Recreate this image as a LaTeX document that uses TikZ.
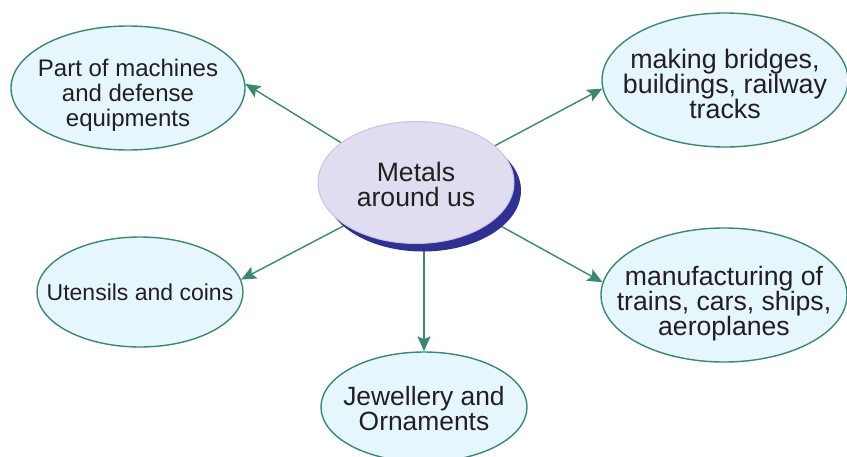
\documentclass[tikz,border=0pt]{standalone}
\usepackage{fontspec}
\setmainfont{Liberation Sans}
\usetikzlibrary{shapes.geometric,arrows.meta,shadows,backgrounds}
\definecolor{edgeteal}{RGB}{58,135,115}
\definecolor{leaffill}{RGB}{230,246,253}
\definecolor{hubfill}{RGB}{223,221,239}
\definecolor{hubline}{RGB}{200,196,228}
\definecolor{hubshadow}{RGB}{46,49,146}
\definecolor{txt}{RGB}{35,31,32}
\begin{document}
\begin{tikzpicture}[x=1pt,y=-1pt,
  leaf/.style={ellipse, draw=edgeteal, line width=1.4pt, fill=leaffill, inner sep=0pt},
  hub/.style={ellipse, draw=hubline, line width=1pt, fill=hubfill, inner sep=0pt,
    drop shadow={shadow xshift=7pt, shadow yshift=-8pt, fill=hubshadow, opacity=1}},
  label/.style={inner sep=0pt, align=center, text=txt, font=\fontsize{#1}{25}\selectfont},
  conn/.style={draw=edgeteal, line width=1.4pt, -{Stealth[length=15pt,width=13pt,inset=3pt]}}]
\useasboundingbox (0,0) rectangle (847,456);
\node[hub, minimum width=196pt, minimum height=122pt] (c) at (416,182.5) {};
\node[label=26.6, yshift=-2pt] (ct) at (c) {Metals\\around us};
\node[leaf, minimum width=234pt, minimum height=124pt] (tl) at (128,88) {};
\node[label=24, yshift=-7pt] (tlt) at (tl) {Part of machines\\and defense\\equipments};
\node[leaf, minimum width=246pt, minimum height=134pt] (tr) at (725,80) {};
\node[label=26.8, yshift=-4pt] (trt) at (tr) {making bridges,\\buildings, railway\\tracks};
\node[leaf, minimum width=206pt, minimum height=110pt] (lm) at (140,292) {};
\node[label=23] (lmt) at (lm) {Utensils and coins};
\node[leaf, minimum width=246pt, minimum height=134pt] (rm) at (724,295) {};
\node[label=26.6, yshift=-9pt] (rmt) at (rm) {manufacturing of\\trains, cars, ships,\\aeroplanes};
\node[leaf, minimum width=206pt, minimum height=110pt] (b) at (424,407) {};
\node[label=26.4, yshift=-2pt] (bt) at (b) {Jewellery and\\Ornaments};
\begin{pgfonlayer}{background}
\draw[conn] (c.152) -- (tl.2);
\draw[conn] (c.25) -- (tr.184);
\draw[conn] (c.211) -- (lm.7);
\draw[conn] (c.333) -- (rm.174);
\draw[conn] (c.south -| b.north) -- (b.north);
\end{pgfonlayer}
\end{tikzpicture}
\end{document}
